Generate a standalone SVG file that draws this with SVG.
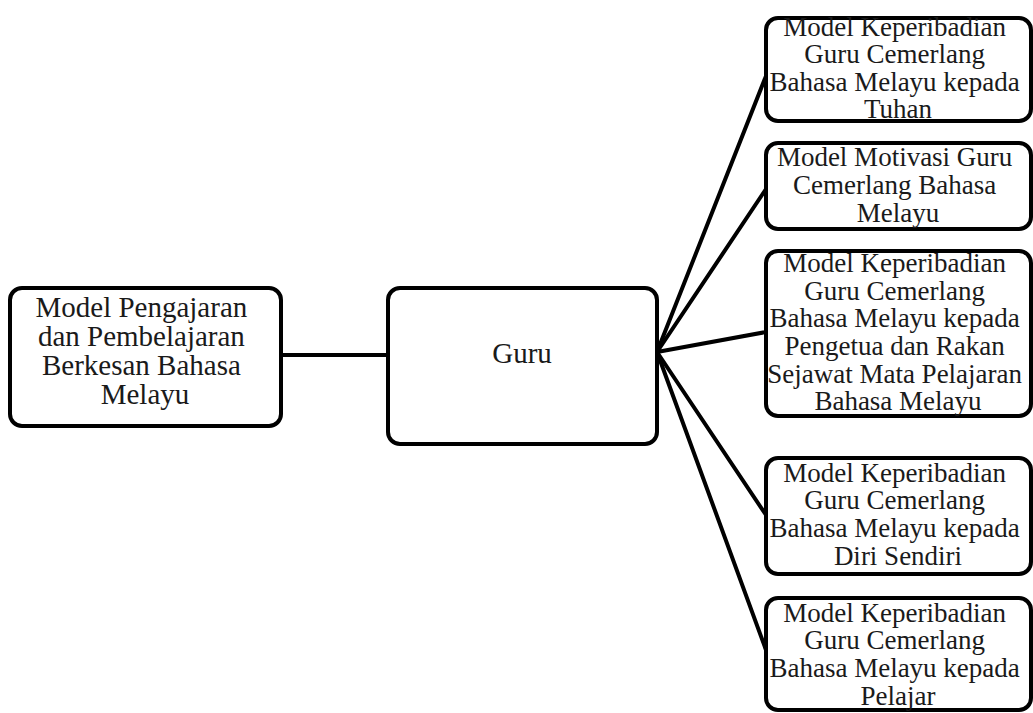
<svg xmlns="http://www.w3.org/2000/svg" width="1033" height="713" viewBox="0 0 1033 713">
  <style>
    .box { fill: #ffffff; stroke: #000000; stroke-width: 4; }
    .lbl { font-family: "Liberation Serif", "Times New Roman", serif; fill: #1a1a1a; text-anchor: middle; }
    .l29 { font-size: 29px; }
    .l27 { font-size: 27px; }
    .conn line { stroke: #000000; stroke-width: 4; stroke-linecap: round; }
  </style>
  <rect width="1033" height="713" fill="#ffffff"/>

  <!-- connectors -->
  <g id="connectors" class="conn">
    <line x1="281" y1="355" x2="387" y2="355"/>
    <line x1="657" y1="352" x2="766" y2="76"/>
    <line x1="657" y1="352" x2="766" y2="189"/>
    <line x1="657" y1="352" x2="766" y2="332"/>
    <line x1="657" y1="352" x2="766" y2="515"/>
    <line x1="657" y1="352" x2="766" y2="650"/>
  </g>

  <!-- root node -->
  <g id="node-model-pengajaran">
    <rect class="box" x="10" y="288" width="271" height="138" rx="12"/>
    <text class="lbl l29" x="145">
      <tspan x="145" y="317">Model Pengajaran</tspan>
      <tspan x="145" y="346">dan Pembelajaran</tspan>
      <tspan x="145" y="375">Berkesan Bahasa</tspan>
      <tspan x="145" y="404">Melayu</tspan>
    </text>
  </g>

  <!-- middle node -->
  <g id="node-guru">
    <rect class="box" x="388" y="288" width="269" height="156" rx="12"/>
    <text class="lbl l29" x="522" y="363">Guru</text>
  </g>

  <!-- leaf nodes -->
  <g id="node-tuhan">
    <rect class="box" x="766" y="18" width="265" height="103" rx="12"/>
    <text class="lbl l27">
      <tspan x="898" y="36">Model Keperibadian</tspan>
      <tspan x="898" y="63">Guru Cemerlang</tspan>
      <tspan x="898" y="91">Bahasa Melayu kepada</tspan>
      <tspan x="898" y="118">Tuhan</tspan>
    </text>
  </g>

  <g id="node-motivasi">
    <rect class="box" x="766" y="143" width="265" height="86" rx="12"/>
    <text class="lbl l27">
      <tspan x="898" y="166">Model Motivasi Guru</tspan>
      <tspan x="898" y="194">Cemerlang Bahasa</tspan>
      <tspan x="898" y="222">Melayu</tspan>
    </text>
  </g>

  <g id="node-pengetua">
    <rect class="box" x="766" y="251" width="265" height="165" rx="12"/>
    <text class="lbl l27">
      <tspan x="898" y="272">Model Keperibadian</tspan>
      <tspan x="898" y="300">Guru Cemerlang</tspan>
      <tspan x="898" y="327">Bahasa Melayu kepada</tspan>
      <tspan x="898" y="355">Pengetua dan Rakan</tspan>
      <tspan x="898" y="383">Sejawat Mata Pelajaran</tspan>
      <tspan x="898" y="410">Bahasa Melayu</tspan>
    </text>
  </g>

  <g id="node-diri">
    <rect class="box" x="766" y="458" width="265" height="116" rx="12"/>
    <text class="lbl l27">
      <tspan x="898" y="482">Model Keperibadian</tspan>
      <tspan x="898" y="509">Guru Cemerlang</tspan>
      <tspan x="898" y="537">Bahasa Melayu kepada</tspan>
      <tspan x="898" y="565">Diri Sendiri</tspan>
    </text>
  </g>

  <g id="node-pelajar">
    <rect class="box" x="766" y="598" width="265" height="112" rx="12"/>
    <text class="lbl l27">
      <tspan x="898" y="622">Model Keperibadian</tspan>
      <tspan x="898" y="649">Guru Cemerlang</tspan>
      <tspan x="898" y="677">Bahasa Melayu kepada</tspan>
      <tspan x="898" y="705">Pelajar</tspan>
    </text>
  </g>
</svg>
